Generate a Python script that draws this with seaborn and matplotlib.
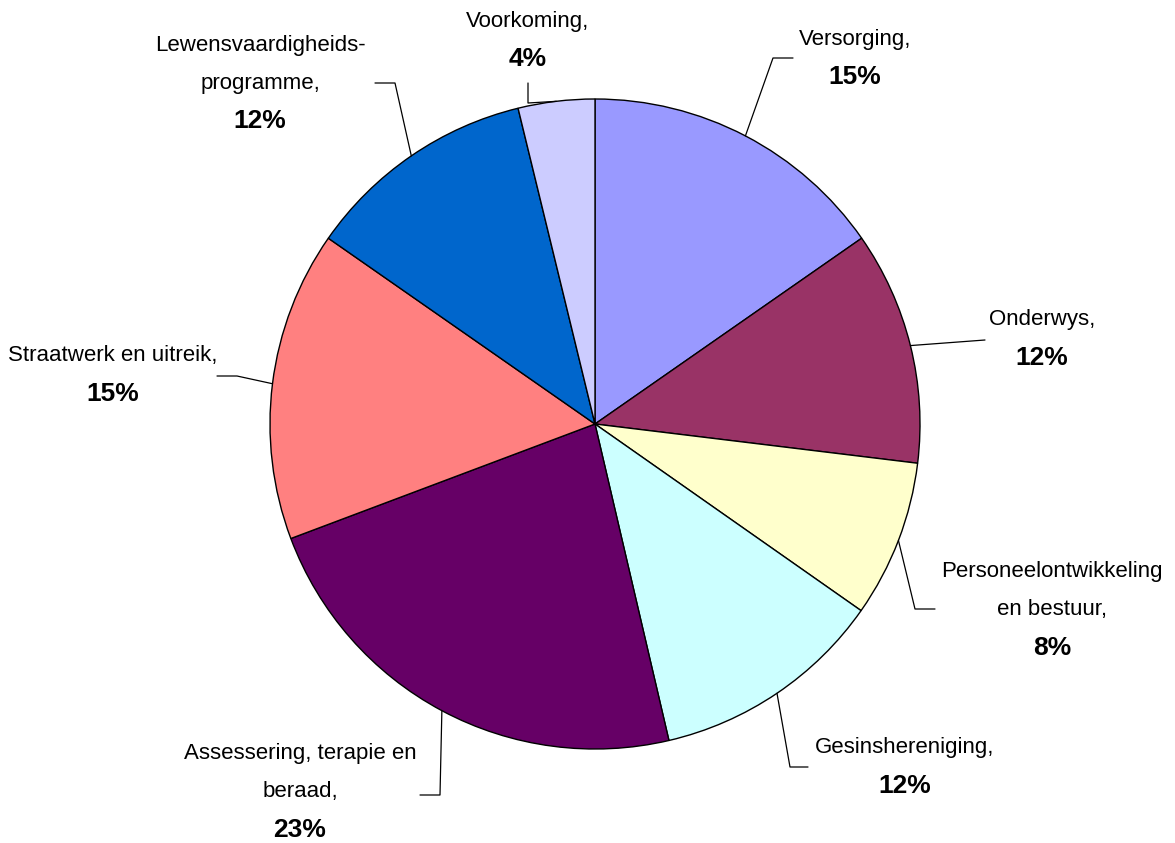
import numpy as np
import matplotlib
matplotlib.use("Agg")
import matplotlib.pyplot as plt
import seaborn as sns

# data
categories = ["Versorging", "Onderwys", "Personeelontwikkeling en bestuur",
              "Gesinshereniging", "Assessering, terapie en beraad",
              "Straatwerk en uitreik", "Lewensvaardigheidsprogramme", "Voorkoming"]
label_lines = ["Versorging,", "Onderwys,", "Personeelontwikkeling\nen bestuur,",
               "Gesinshereniging,", "Assessering, terapie en\nberaad,",
               "Straatwerk en uitreik,", "Lewensvaardigheids-\nprogramme,", "Voorkoming,"]
shares = [15.3, 11.6, 7.8, 11.6, 22.9, 15.4, 11.5, 3.8]
pct_labels = ["15%", "12%", "8%", "12%", "23%", "15%", "12%", "4%"]
colors = ["#9999FF", "#993366", "#FFFFCC", "#CCFFFF", "#660066", "#FF8080", "#0066CC", "#CCCCFF"]

# label layout (pixel positions of the text block centre, elbow of the leader line, end of leader)
W, H = 1175, 843
text_pos = [(855, 58), (1042, 339), (1052, 610), (905, 767),
            (300, 792), (113, 375), (260, 83), (528, 40)]
elbows = [(773, 58), (985, 340), (915, 609), (790, 767),
          (440, 795), (237, 376), (395, 83), (528, 103)]
leader_ends = [(793, 58), (985, 340), (935, 609), (808, 767),
               (420, 795), (217, 376), (375, 83), (528, 83)]

sns.set_style("white")
plt.rcParams['font.family'] = ['Liberation Sans Narrow', 'Liberation Sans', 'DejaVu Sans']

fig = plt.figure(figsize=(W / 100, H / 100), dpi=100)
ax = fig.add_axes([0, 0, 1, 1])

cx, cy, r = 595, H - 424, 325
wedges, _ = ax.pie(shares, colors=colors, startangle=90, counterclock=False,
                   center=(cx, cy), radius=r, frame=True,
                   wedgeprops=dict(edgecolor="black", linewidth=1.0))
ax.set_xlim(0, W)
ax.set_ylim(0, H)
ax.set_aspect("equal")
ax.axis("off")

fs_name, fs_pct = 16, 19
line_h = 38
for i, w in enumerate(wedges):
    mid = np.deg2rad((w.theta1 + w.theta2) / 2)
    px, py = cx + r * np.cos(mid), cy + r * np.sin(mid)
    ex, ey = elbows[i]
    lx, ly = leader_ends[i]
    ax.plot([px, ex, lx], [py, H - ey, H - ly], color="black", lw=0.9)
    tx, ty = text_pos[i]
    nlines = label_lines[i].count("\n") + 1
    # name lines above, bold percentage underneath
    top = ty - (nlines + 1) * line_h / 2 + line_h / 2
    for j, line in enumerate(label_lines[i].split("\n")):
        ax.text(tx, H - (top + j * line_h), line, ha="center", va="center",
                fontsize=fs_name, color="black")
    ax.text(tx, H - (top + nlines * line_h), pct_labels[i], ha="center", va="center",
            fontsize=fs_pct, fontweight="bold", color="black")

fig.savefig("out.png", dpi=100)
